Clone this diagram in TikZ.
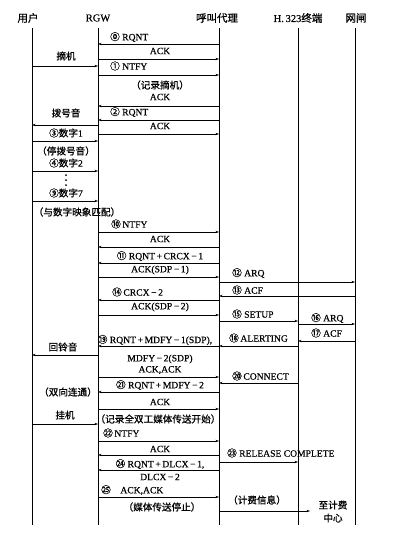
\documentclass[tikz,border=0pt]{standalone}
\usepackage{fontspec}
\setmainfont{Liberation Serif}[FakeBold=0.4]
\newfontfamily\cjk{Noto Sans CJK SC}[FakeBold=0.8]
\usetikzlibrary{arrows.meta}
\newcommand{\zh}[1]{{\cjk #1}}
\newcommand{\pl}{\,+\,}
\newcommand{\mi}{\,−\,}
\tikzset{
    msg/.style={-{Stealth[length=3.5pt,width=2.4pt]}, line width=0.55pt},
    life/.style={line width=0.65pt},
    lbl/.style={inner sep=0pt, font=\fontsize{9.6}{11}\selectfont},
    head/.style={inner sep=0pt, font=\fontsize{10.5}{12}\selectfont},
}
\begin{document}
\begin{tikzpicture}[x=1pt,y=-1pt]
    \useasboundingbox (0,0) rectangle (401,538);
    % heads
    \node[head] (hu) at (28,18) {\zh{用户}};
    \node[head] (hr) at (98,18) {RGW};
    \node[head] (hc) at (217,18) {\zh{呼叫代理}};
    \node[head] (hh) at (298,18) {H.\,323\zh{终端}};
    \node[head] (hg) at (356,18) {\zh{网闸}};
    \foreach \n/\x in {u/32, r/98, c/219, h/298, g/355}
    {
        \coordinate (\n0) at (\x,28);
        \coordinate (\n1) at (\x,525);
        \draw[life] (\n0) -- (\n1);
    }
    % messages
    \foreach \y/\a/\b in {66/u/r, 125/r/u, 141/u/r, 171/u/r, 201/u/r, 355/r/u, 424/u/r,
        44/c/r, 59/r/c, 75/r/c, 106/c/r, 120/c/r, 134/r/c, 232/r/c, 247/c/r,
        263/c/r, 277/r/c, 300/c/r, 315/r/c, 346/c/r, 377/r/c, 392/c/r, 409/r/c,
        441/r/c, 455/c/r, 470/c/r, 497/r/c,
        282/c/g, 296/g/c, 321/c/h, 346/h/c, 383/h/c, 462/c/h, 324/h/g, 341/g/h}
    {
        \draw[msg] (\a0 |- 0,\y) -- (\b0 |- 0,\y);
    }
    \coordinate (bill) at (310,511);
    \draw[msg] (c0 |- bill) -- (bill);
    % user side
    \node[lbl] (t1) at (66,56) {\zh{摘机}};
    \node[lbl] (t2) at (66,113) {\zh{拨号音}};
    \node[lbl] (t3) at (66,133) {\zh{③数字}1};
    \node[lbl] (t4) at (66,151) {\zh{（停拨号音）}};
    \node[lbl] (t5) at (66,163) {\zh{④数字}2};
    \foreach \d in {175,180,185}
        \fill (66,\d) circle (1pt);
    \node[lbl] (t6) at (66,193) {\zh{⑨数字}7};
    \node[lbl] (t7) at (77,212) {\zh{（与数字映象匹配）}};
    \node[lbl] (t8) at (63,347) {\zh{回铃音}};
    \node[lbl] (t9) at (68,392) {\zh{（双向连通）}};
    \node[lbl] (t10) at (65,415) {\zh{挂机}};
    % RGW - call agent
    \node[lbl, anchor=west] (m0) at (110,37) {\zh{⓪} RQNT};
    \node[lbl] (m1) at (160,51) {ACK};
    \node[lbl, anchor=west] (m2) at (110,66) {\zh{①} NTFY};
    \node[lbl] (m3) at (160,85) {\zh{（记录摘机）}};
    \node[lbl] (m4) at (160,97) {ACK};
    \node[lbl, anchor=west] (m5) at (110,112) {\zh{②} RQNT};
    \node[lbl] (m6) at (160,126) {ACK};
    \node[lbl, anchor=west] (m7) at (111,224) {\zh{⑩}\,NTFY};
    \node[lbl] (m8) at (160,239) {ACK};
    \node[lbl] (m9) at (160,256) {\zh{⑪} RQNT\pl CRCX\mi 1};
    \node[lbl] (m10) at (160,270) {ACK(SDP\mi 1)};
    \node[lbl, anchor=west] (m11) at (112,292) {\zh{⑭}\,CRCX\mi 2};
    \node[lbl] (m12) at (160,307) {ACK(SDP\mi 2)};
    \node[lbl] (m13) at (155,340) {\zh{⑲} RQNT\pl MDFY\mi 1(SDP),};
    \node[lbl] (m14) at (160,359) {MDFY\mi 2(SDP)};
    \node[lbl] (m15) at (160,370) {ACK,ACK};
    \node[lbl] (m16) at (160,385) {\zh{㉑} RQNT\pl MDFY\mi 2};
    \node[lbl] (m17) at (160,402) {ACK};
    \node[lbl] (m18) at (158,419) {\zh{（记录全双工媒体传送开始）}};
    \node[lbl, anchor=west] (m19) at (103,433) {\zh{㉒}\,NTFY};
    \node[lbl] (m20) at (160,449) {ACK};
    \node[lbl] (m21) at (160,464) {\zh{㉔} RQNT\pl DLCX\mi 1,};
    \node[lbl] (m22) at (160,477) {DLCX\mi 2};
    \node[lbl, anchor=west] (m23) at (101,490) {\zh{㉕}\quad ACK,ACK};
    \node[lbl] (m24) at (162,507) {\zh{（媒体传送停止）}};
    % call agent - H.323 / gatekeeper
    \node[lbl, anchor=west] (n1) at (232,273) {\zh{⑫} ARQ};
    \node[lbl, anchor=west] (n2) at (232,290) {\zh{⑬} ACF};
    \node[lbl, anchor=west] (n3) at (232,314) {\zh{⑮} SETUP};
    \node[lbl, anchor=west] (n4) at (229,338) {\zh{⑱}\,ALERTING};
    \node[lbl, anchor=west] (n5) at (232,376) {\zh{⑳}\,CONNECT};
    \node[lbl, anchor=west] (n6) at (227,453) {\zh{㉓} RELEASE COMPLETE};
    \node[lbl] (n7) at (257,500) {\zh{（计费信息）}};
    \node[lbl, anchor=west] (n8) at (311,318) {\zh{⑯} ARQ};
    \node[lbl, anchor=west] (n9) at (311,333) {\zh{⑰} ACF};
    \node[lbl] (n10) at (333,505) {\zh{至计费}};
    \node[lbl] (n11) at (333,518) {\zh{中心}};
\end{tikzpicture}
\end{document}
